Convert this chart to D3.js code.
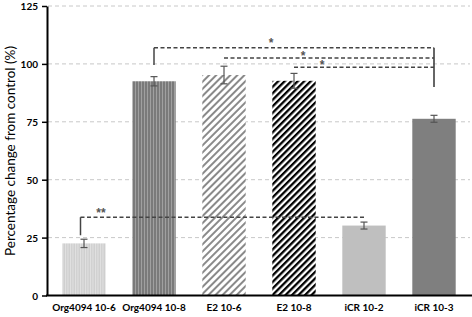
<!DOCTYPE html>
<html><head><meta charset="utf-8">
<script src="https://cdn.jsdelivr.net/npm/d3@7"></script>
<style>body{margin:0;background:#fff}svg{display:block}</style>
</head><body>
<script>
const categories = ["Org4094 10-6","Org4094 10-8","E2 10-6","E2 10-8","iCR 10-2","iCR 10-3"];
const values = [22.5, 92.5, 95.2, 92.7, 30.2, 76.3];
const errors = [1.8, 2.0, 3.8, 3.2, 1.5, 1.5];
const yTicks = [0,25,50,75,100,125];
const fills = ["url(#pLightV)","url(#pDarkV)","url(#pGrayD)","url(#pBlackD)","#bfbfbf","#7f7f7f"];
// significance brackets
const sigFrom = [1, 2, 3, 0];
const sigTo = [5, 5, 5, 4];
const sigLabels = ["*","*","*","**"];
const sigLevel = [107, 102.5, 98.5, 33.8];
const sigLeftDrop = [99.5, 99.5, 96, 26];
const sigRightDrop = [90, 90, 90, null];

const W=472,H=317;
const svg=d3.select("body").append("svg").attr("width",W).attr("height",H);
const defs=svg.append("defs");
function vStripe(id,bg,fg,period,w){
  const p=defs.append("pattern").attr("id",id).attr("patternUnits","userSpaceOnUse").attr("width",period).attr("height",10);
  p.append("rect").attr("width",period).attr("height",10).attr("fill",bg);
  p.append("rect").attr("width",w).attr("height",10).attr("fill",fg);
}
vStripe("pLightV","#cfcfcf","#e2e2e2",2.5,1);
vStripe("pDarkV","#7a7a7a","#a0a0a0",3,1);
function dStripe(id,col,period,w){
  const p=defs.append("pattern").attr("id",id).attr("patternUnits","userSpaceOnUse").attr("width",period).attr("height",period).attr("patternTransform","rotate(45)");
  p.append("rect").attr("width",period).attr("height",period).attr("fill","#fff");
  p.append("rect").attr("width",w).attr("height",period).attr("fill",col);
}
dStripe("pGrayD","#8a8a8a",5,2);
dStripe("pBlackD","#000",4.6,2.3);

const x=d3.scaleBand().domain(categories).range([49,469]).paddingInner(0.38).paddingOuter(0.19);
const y=d3.scaleLinear().domain([0,125]).range([295.5,6]);
const cx=c=>x(c)+x.bandwidth()/2;

// grid
svg.append("g").selectAll("line").data(yTicks.filter(t=>t>0)).join("line")
  .attr("x1",48).attr("x2",470).attr("y1",d=>y(d)).attr("y2",d=>y(d))
  .attr("stroke","#c8c8c8").attr("stroke-width",1).attr("stroke-dasharray","4,3");

// bars
svg.append("g").selectAll("rect").data(categories).join("rect")
  .attr("x",d=>x(d)).attr("width",x.bandwidth())
  .attr("y",(d,i)=>y(values[i])).attr("height",(d,i)=>y(0)-y(values[i]))
  .attr("fill",(d,i)=>fills[i]);

// error bars
const eb=svg.append("g").attr("stroke","#555").attr("stroke-width",1.2);
categories.forEach((c,i)=>{
  const xc=cx(c),lo=y(values[i]-errors[i]),hi=y(values[i]+errors[i]);
  eb.append("line").attr("x1",xc).attr("x2",xc).attr("y1",lo).attr("y2",hi);
  eb.append("line").attr("x1",xc-3.5).attr("x2",xc+3.5).attr("y1",lo).attr("y2",lo);
  eb.append("line").attr("x1",xc-3.5).attr("x2",xc+3.5).attr("y1",hi).attr("y2",hi);
});

// axes
const ya=svg.append("g").attr("transform","translate(47,0)")
  .call(d3.axisLeft(y).tickValues(yTicks).tickSize(5).tickSizeOuter(0));
ya.select(".domain").attr("stroke","#000").attr("stroke-width",2);
ya.selectAll(".tick line").attr("stroke","#000").attr("stroke-width",1.5);
ya.selectAll(".tick text").attr("font-family","Lato, sans-serif").attr("font-weight","bold")
  .attr("font-size","10px").attr("fill","#000").attr("x",-9).attr("dy","0.35em");

svg.append("line").attr("x1",46).attr("x2",472).attr("y1",y(0)).attr("y2",y(0))
  .attr("stroke","#000").attr("stroke-width",2);
const xa=svg.append("g").attr("transform",`translate(0,${y(0)})`)
  .call(d3.axisBottom(x).tickSize(0));
xa.select(".domain").remove();
xa.selectAll(".tick text").attr("font-family","Lato, sans-serif").attr("font-weight","bold")
  .attr("font-size","10px").attr("fill","#000").attr("y",0).attr("dy","1.55em");

svg.append("text").attr("transform","translate(15,151) rotate(-90)").attr("text-anchor","middle")
  .attr("font-family","Lato, sans-serif").attr("font-size","13.5px").attr("fill","#000")
  .text("Percentage change from control (%)");

// significance
const sg=svg.append("g");
sigFrom.forEach((f,i)=>{
  const x1=cx(categories[f])-(i===3?3.5:0), x2=cx(categories[sigTo[i]]), yy=y(sigLevel[i]);
  sg.append("line").attr("x1",x1).attr("x2",x2).attr("y1",yy).attr("y2",yy)
    .attr("stroke","#444").attr("stroke-width",1.5).attr("stroke-dasharray","4,2.5");
  if(i===0||i===3){
    sg.append("line").attr("x1",x1).attr("x2",x1).attr("y1",yy).attr("y2",y(sigLeftDrop[i]))
      .attr("stroke","#444").attr("stroke-width",1.5);
  }
  if(sigRightDrop[i]!==null && i===0){
    sg.append("line").attr("x1",x2).attr("x2",x2).attr("y1",yy).attr("y2",y(sigRightDrop[i]))
      .attr("stroke","#333").attr("stroke-width",1.5);
  }
});
const starX=[271,303,322,101];
const starY=[47,59.5,68.5,217];
sigLabels.forEach((s,i)=>{
  sg.append("text").attr("x",starX[i]).attr("y",starY[i]).attr("text-anchor","middle")
    .attr("font-family","Liberation Sans, sans-serif").attr("font-size","12px").attr("font-weight","bold")
    .attr("fill","#555").text(s);
});
</script>
</body></html>
